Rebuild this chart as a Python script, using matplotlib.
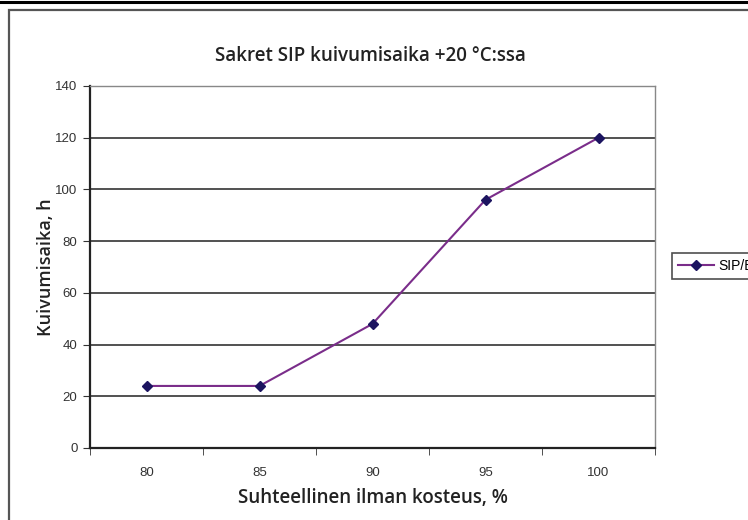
import matplotlib
matplotlib.use("Agg")
import matplotlib.pyplot as plt
from matplotlib.lines import Line2D
from matplotlib.patches import Rectangle

# data
categories = ["80", "85", "90", "95", "100"]
drying_hours = [24, 24, 48, 96, 120]
y_ticks = [0, 20, 40, 60, 80, 100, 120, 140]
series_name = "SIP/BM"

W, H = 748, 520
fig = plt.figure(figsize=(W / 100, H / 100), dpi=100)

# outer frame like the pasted Excel chart
fig.add_artist(Line2D([0, 1], [1 - 2 / H, 1 - 2 / H], color="black", lw=2.2,
                      transform=fig.transFigure))
fig.add_artist(Rectangle((9 / W, -0.05), 1.0, 1 - 10 / H + 0.05, fill=False,
                         edgecolor="#555555", lw=1.6, transform=fig.transFigure))

ax = fig.add_axes([90 / W, 1 - 448 / H, 565 / W, 362 / H])
x = list(range(len(categories)))
ax.plot(x, drying_hours, color="#7a2d8a", lw=1.5, marker="D", markersize=5.5,
        markerfacecolor="#1c1460", markeredgecolor="#1c1460", label=series_name)

ax.set_xlim(-0.5, len(categories) - 0.5)
ax.set_ylim(0, 140)
ax.set_yticks(y_ticks)
ax.set_xticks(x)
ax.set_xticklabels(categories)
# category ticks sit between the labels
ax.set_xticks([i - 0.5 for i in range(len(categories) + 1)], minor=True)
ax.tick_params(axis="x", which="major", length=0, pad=14)
ax.tick_params(axis="x", which="minor", length=5, direction="out", color="#333333")
ax.tick_params(axis="y", length=5, direction="out", color="#333333", pad=4)
for lab in ax.get_xticklabels() + ax.get_yticklabels():
    lab.set_fontfamily("Liberation Sans")
    lab.set_fontsize(9.5)
    lab.set_color("#333333")

ax.grid(axis="y", color="#222222", lw=1.1)
ax.set_axisbelow(True)
for side in ["top", "right"]:
    ax.spines[side].set_color("#888888")
    ax.spines[side].set_linewidth(1.0)
for side in ["left", "bottom"]:
    ax.spines[side].set_color("#222222")
    ax.spines[side].set_linewidth(1.6)

ax.set_ylabel("Kuivumisaika, h", fontfamily="Open Sans", fontsize=13,
              fontweight="semibold", color="#222222", labelpad=0)
ax.set_xlabel("Suhteellinen ilman kosteus, %", fontfamily="Open Sans", fontsize=13.5,
              fontweight="semibold", color="#222222", labelpad=6)
fig.text(370 / W, 1 - 56 / H, "Sakret SIP kuivumisaika +20 °C:ssa",
         fontfamily="Open Sans", fontsize=13.5, fontweight="semibold",
         color="#222222", ha="center", va="center")

# legend runs off the right edge, as in the reference
leg = ax.legend(loc="center left", bbox_to_anchor=(665 / W, 1 - 266 / H),
                bbox_transform=fig.transFigure, frameon=True, fancybox=False,
                prop={"family": "Liberation Sans", "size": 10},
                handlelength=2.6, handletextpad=0.3, borderpad=0.45)
leg.get_frame().set_edgecolor("#222222")
leg.get_frame().set_linewidth(1.2)

fig.savefig("out.png", dpi=100)
